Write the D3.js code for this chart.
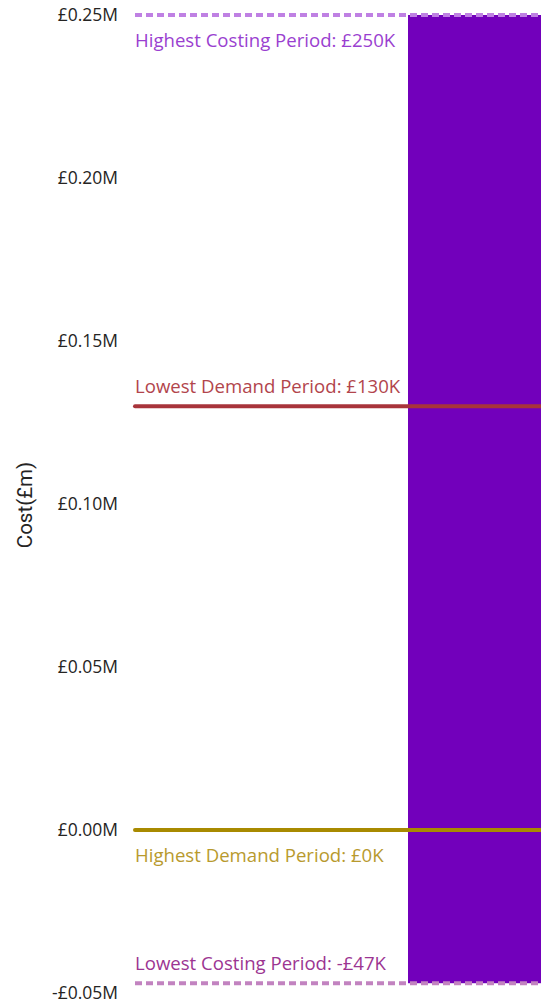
<!DOCTYPE html>
<html>
<head>
<meta charset="utf-8">
<script src="https://cdn.jsdelivr.net/npm/d3@7"></script>
<style>
  body { margin: 0; background: #fff; overflow: hidden; }
  text { font-family: "Open Sans", "Noto Sans", sans-serif; }
</style>
</head>
<body>
<svg id="chart"></svg>
<script>
// data
const categories = ['Period'];
const costValues = [0.25];
const costBase = [-0.047];
const yTicks = [-0.05, 0, 0.05, 0.10, 0.15, 0.20, 0.25];
const refNames = ['Highest Costing Period', 'Lowest Demand Period', 'Highest Demand Period', 'Lowest Costing Period'];
const refValues = [0.25, 0.13, 0, -0.047];
const refLabels = ['£250K', '£130K', '£0K', '-£47K'];

const width = 541, height = 1005;
const left = 134;

let svg = d3.select('#chart')
    .attr('width', width)
    .attr('height', height);

let yScale = d3.scaleLinear()
    .domain([-0.05, 0.25])
    .range([993, 15]);

// wide plot, only part of it fits the window
let xScale = d3.scaleBand()
    .domain(categories)
    .range([left, left + 1096])
    .paddingOuter(0.5)
    .paddingInner(0);

// axis
let yAxis = d3.axisLeft(yScale)
    .tickValues(yTicks)
    .tickSize(0)
    .tickPadding(0)
    .tickFormat(d => (d < 0 ? '-' : '') + '£' + Math.abs(d).toFixed(2) + 'M');

let axisG = svg.append('g')
    .attr('transform', 'translate(118,0)')
    .call(yAxis);
axisG.select('.domain').remove();
axisG.selectAll('text')
    .attr('fill', '#252423')
    .style('font-size', '17.5px')
    .style('font-family', '"Open Sans", sans-serif');

svg.append('text')
    .attr('transform', 'translate(32,505) rotate(-90)')
    .attr('text-anchor', 'middle')
    .attr('fill', '#252423')
    .style('font-size', '20.5px')
    .style('font-family', 'Roboto, sans-serif')
    .text('Cost(£m)');

// bar
svg.append('g').selectAll('rect')
    .data(categories)
    .enter()
    .append('rect')
    .attr('x', d => xScale(d))
    .attr('width', xScale.bandwidth())
    .attr('y', (d, i) => yScale(costValues[i]))
    .attr('height', (d, i) => yScale(costBase[i]) - yScale(costValues[i]))
    .attr('fill', '#7200bb');

// reference lines
const lineColors = ['#bf80e3', '#a8343b', '#a88a00', '#c283c0'];
const textColors = ['#9a3fd0', '#b2454c', '#b89a2e', '#9c3592'];
const dashes = ['7,4', null, null, '7,4'];
const below = [true, false, true, false];

let refs = svg.append('g').selectAll('g')
    .data(refValues)
    .enter()
    .append('g');

refs.append('line')
    .attr('x1', left + 1)
    .attr('x2', width + 10)
    .attr('y1', d => yScale(d))
    .attr('y2', d => yScale(d))
    .attr('stroke', (d, i) => lineColors[i])
    .attr('stroke-width', 4)
    .attr('stroke-linecap', (d, i) => dashes[i] ? 'butt' : 'round')
    .attr('stroke-dasharray', (d, i) => dashes[i]);

refs.append('text')
    .attr('x', left + 1)
    .attr('y', (d, i) => yScale(d) + (below[i] ? 32 : -13))
    .attr('fill', (d, i) => textColors[i])
    .style('font-size', '18.6px')
    .text((d, i) => refNames[i] + ': ' + refLabels[i]);
</script>
</body>
</html>
